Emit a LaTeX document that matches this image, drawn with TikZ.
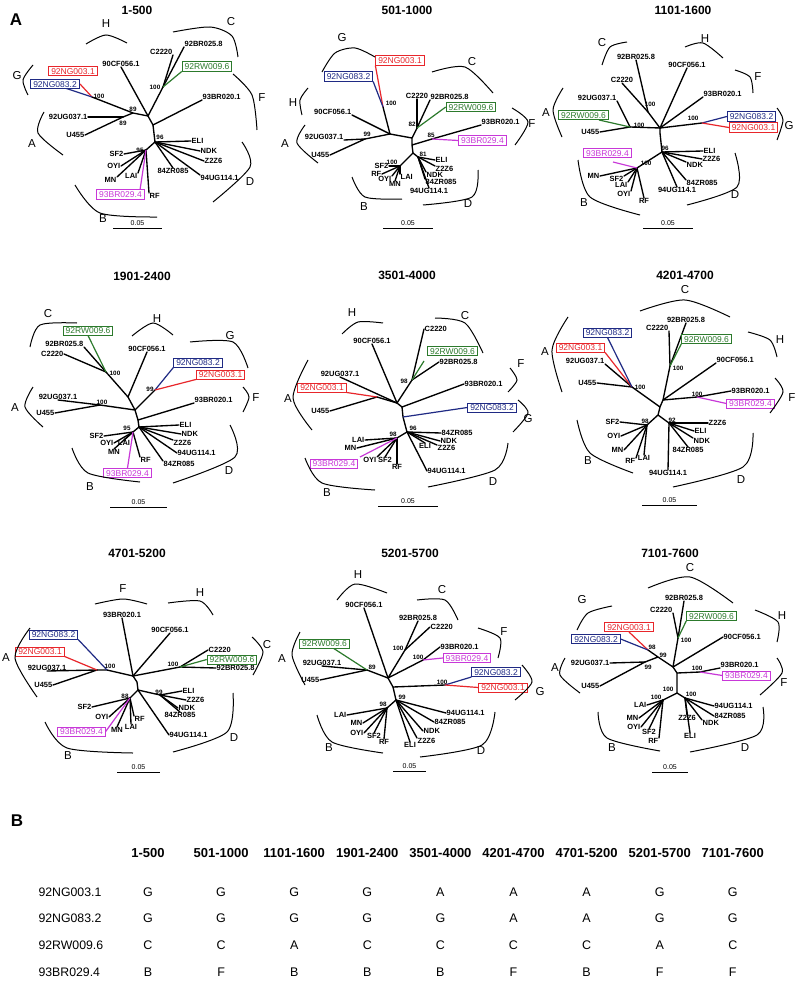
\documentclass[tikz,border=0pt]{standalone}
\usepackage{fontspec}
\setmainfont{Liberation Sans}
\definecolor{cred}{HTML}{E8262B}
\definecolor{cblue}{HTML}{1F2A84}
\definecolor{cgreen}{HTML}{2C7A2C}
\definecolor{cmag}{HTML}{C838D8}
\tikzset{
 br/.style={line width=1.35pt,line cap=round},
 lab/.style={font=\fontsize{7.5}{8}\selectfont\bfseries,inner sep=0.5pt},
 bs/.style={font=\fontsize{6.3}{7}\selectfont\bfseries,inner sep=0.3pt},
 clade/.style={font=\fontsize{11.5}{12}\selectfont,inner sep=0pt},
 carc/.style={line width=1pt},
 bx/.style={draw=#1,text=#1,fill=white,line width=0.8pt,font=\fontsize{8.5}{9}\selectfont,inner xsep=2.5pt,inner ysep=1.5pt,text height=6.2pt,text depth=0pt},
 cl/.style={draw=#1,line width=1.2pt},
 ttl/.style={font=\fontsize{12}{13}\selectfont\bfseries},
 sbarst/.style={line width=1pt},
 scl/.style={font=\fontsize{7}{8}\selectfont,inner sep=0.5pt},
 hdr/.style={font=\fontsize{13}{14}\selectfont\bfseries},
 cell/.style={font=\fontsize{12.5}{13}\selectfont},
 rowl/.style={font=\fontsize{12.3}{13}\selectfont,anchor=west},
 panel/.style={font=\fontsize{17}{18}\selectfont\bfseries},
}
\newcommand\tleaf[5]{\node[lab,anchor=#4] (#2) at (#3) {#5};\draw[br] (#1) -- (#2.#4);}
\newcommand\bsn[3]{\node[bs] (#1) at (#2) {#3};}
\newcommand\cld[4]{\node[clade] (#1) at (#2) {#3};\draw[carc] plot[smooth] coordinates {#4};}
\newcommand\sbar[4]{\coordinate (#1l) at (#2,#4);\coordinate (#1r) at (#3,#4);\draw[sbarst] (#1l)--(#1r);\node[scl] (#1t) at ({(#2+#3)/2},{#4-5}) {0.05};}
\begin{document}
\begin{tikzpicture}[x=1pt,y=-1pt]
\fill[white] (0,0) rectangle (799,987);
\useasboundingbox (0,0) rectangle (799,987);
\node[panel] (pA) at (16,20) {A};
\node[panel] (pB) at (17,821) {B};

% ================= TREE 1: 1-500
\node[ttl] (t1T) at (137,10) {1-500};
\coordinate (t1a) at (148,116); \coordinate (t1b) at (153,125); \coordinate (t1c) at (155,142);
\coordinate (t1h) at (133,113); \coordinate (t1n) at (123,117); \coordinate (t1g) at (92,97);
\coordinate (t1k) at (163,87); \coordinate (t1m) at (146,150);
\draw[br] (t1a)--(t1b)--(t1c) (t1a)--(t1h)--(t1g) (t1h)--(t1n) (t1a)--(t1k) (t1c)--(t1m);
\tleaf{t1a}{t1cf}{121,67}{south}{90CF056.1}
\tleaf{t1n}{t1ug}{88,117}{east}{92UG037.1}
\tleaf{t1n}{t1u}{85,135}{east}{U455}
\tleaf{t1k}{t1cc}{173,55}{south east}{C2220}
\tleaf{t1k}{t1bra}{184,47}{south west}{92BR025.8}
\tleaf{t1b}{t1brb}{202,100}{south west}{93BR020.1}
\tleaf{t1c}{t1eli}{191,141}{west}{ELI}
\tleaf{t1c}{t1ndk}{200,151}{west}{NDK}
\tleaf{t1c}{t1z}{204,161}{west}{Z2Z6}
\tleaf{t1c}{t1ugb}{200,175}{north west}{94UG114.1}
\tleaf{t1c}{t1zr}{173,168}{north}{84ZR085}
\tleaf{t1m}{t1sf}{124,154}{east}{SF2}
\tleaf{t1m}{t1oyi}{121,166}{east}{OYI}
\tleaf{t1m}{t1mn}{117,177}{north east}{MN}
\tleaf{t1m}{t1lai}{138,173}{north east}{LAI}
\tleaf{t1m}{t1rf}{149,193}{north west}{RF}
\coordinate (t1re) at (80,84); \coordinate (t1be) at (65,88); \coordinate (t1me) at (140,190);
\draw[cl=cred] (t1g)--(t1re);
\draw[cl=cblue] (t1g)--(t1be);
\draw[cl=cmag] (t1m)--(t1me);
\node[bx=cred] (t1red) at (73,71) {92NG003.1};
\node[bx=cblue] (t1blu) at (55,84) {92NG083.2};
\node[bx=cgreen] (t1grn) at (207,66.5) {92RW009.6};
\node[bx=cmag] (t1mag) at (120.5,194.5) {93BR029.4};
\draw[cl=cgreen] (t1k)--(t1grn.south west);
\bsn{t1s1}{99,96}{100} \bsn{t1s2}{133,109}{89} \bsn{t1s3}{123,123}{89}
\bsn{t1s4}{155,87}{100} \bsn{t1s5}{160,137}{96} \bsn{t1s6}{140,150}{95}
\cld{t1H}{106,24}{H}{(86,44) (106,35) (127,43)}
\cld{t1C}{231,22}{C}{(173,32) (210,27) (232,36) (238,57)}
\cld{t1G}{17,76}{G}{(33,65) (23,80) (28,95)}
\cld{t1F}{262,98}{F}{(233,74) (252,95) (257,130)}
\cld{t1A}{32,144}{A}{(44,112) (38,133) (63,155)}
\cld{t1D}{250,182}{D}{(242,142) (250,167) (213,202)}
\cld{t1B}{103,219}{B}{(75,185) (100,213) (157,217)}
\sbar{t1sb}{113}{162}{228}

% ================= TREE 2: 501-1000
\node[ttl] (t2T) at (407,10) {501-1000};
\coordinate (t2a) at (390,134); \coordinate (t2b) at (412,138); \coordinate (t2c) at (412,145);
\coordinate (t2d) at (413,153); \coordinate (t2g) at (383,107); \coordinate (t2n) at (365,139);
\coordinate (t2k) at (417,128); \coordinate (t2f) at (432,139); \coordinate (t2e) at (418,157);
\coordinate (t2m) at (400,166);
\draw[br] (t2a)--(t2b)--(t2c)--(t2d) (t2a)--(t2g) (t2a)--(t2n) (t2b)--(t2k) (t2c)--(t2f) (t2d)--(t2e) (t2d)--(t2m);
\tleaf{t2a}{t2cf}{352,115}{south east}{90CF056.1}
\tleaf{t2n}{t2ug}{344,140}{south east}{92UG037.1}
\tleaf{t2n}{t2u}{330,155}{east}{U455}
\tleaf{t2k}{t2cc}{417,99}{south}{C2220}
\tleaf{t2k}{t2bra}{430,100}{south west}{92BR025.8}
\tleaf{t2f}{t2brb}{481,125}{south west}{93BR020.1}
\tleaf{t2e}{t2eli}{435,160}{west}{ELI}
\tleaf{t2e}{t2z}{435,166}{north west}{Z2Z6}
\tleaf{t2e}{t2ndk}{426,172}{north west}{NDK}
\tleaf{t2e}{t2zr}{425,179}{north west}{84ZR085}
\tleaf{t2e}{t2ugb}{429,188}{north}{94UG114.1}
\tleaf{t2m}{t2sf}{389,166}{east}{SF2}
\tleaf{t2m}{t2rf}{382,174}{east}{RF}
\tleaf{t2m}{t2oyi}{392,176}{north east}{OYI}
\tleaf{t2m}{t2mn}{395,181}{north}{MN}
\tleaf{t2m}{t2lai}{400,174}{north west}{LAI}
\node[bx=cred] (t2red) at (400,60.5) {92NG003.1};
\node[bx=cblue] (t2blu) at (348.5,76.5) {92NG083.2};
\node[bx=cgreen] (t2grn) at (471,107) {92RW009.6};
\node[bx=cmag] (t2mag) at (482.5,140.5) {93BR029.4};
\draw[cl=cred] (t2g)--(t2red.south west);
\draw[cl=cblue] (t2g)--(t2blu.south east);
\draw[cl=cgreen] (t2k)--(t2grn.west);
\draw[cl=cmag] (t2f)--(t2mag.west);
\bsn{t2s1}{391,103}{100} \bsn{t2s2}{367,134}{99} \bsn{t2s3}{412,124}{82}
\bsn{t2s4}{431,135}{85} \bsn{t2s5}{423,154}{81} \bsn{t2s6}{392,162}{100}
\cld{t2G}{342,38}{G}{(322,72) (335,53) (355,48) (375,57)}
\cld{t2C}{472,62}{C}{(432,72) (465,67) (493,93)}
\cld{t2H}{293,103}{H}{(308,88) (300,100) (302,115)}
\cld{t2F}{532,124}{F}{(512,108) (528,122) (515,145)}
\cld{t2A}{285,144}{A}{(305,125) (297,143) (318,163)}
\cld{t2B}{364,207}{B}{(352,177) (365,197) (402,199)}
\cld{t2D}{468,204}{D}{(478,170) (472,197) (423,205)}
\sbar{t2sb}{383}{433}{228}

% ================= TREE 3: 1101-1600
\node[ttl] (t3T) at (683,10) {1101-1600};
\coordinate (t3a) at (660,128); \coordinate (t3b) at (660,133); \coordinate (t3d) at (662,152);
\coordinate (t3n) at (630,127); \coordinate (t3k) at (648,112); \coordinate (t3g) at (702,123);
\coordinate (t3m) at (637,168);
\draw[br] (t3a)--(t3b)--(t3d) (t3a)--(t3n) (t3a)--(t3k) (t3a)--(t3g) (t3d)--(t3m);
\tleaf{t3n}{t3ug}{617,101}{south east}{92UG037.1}
\tleaf{t3n}{t3u}{600,132}{east}{U455}
\tleaf{t3k}{t3cc}{622,83}{south}{C2220}
\tleaf{t3k}{t3bra}{636,60}{south}{92BR025.8}
\tleaf{t3a}{t3cf}{687,68}{south}{90CF056.1}
\tleaf{t3a}{t3brb}{703,97}{south west}{93BR020.1}
\tleaf{t3d}{t3eli}{703,151}{west}{ELI}
\tleaf{t3d}{t3z}{702,159}{west}{Z2Z6}
\tleaf{t3d}{t3ndk}{686,162}{north west}{NDK}
\tleaf{t3d}{t3zr}{686,180}{north west}{84ZR085}
\tleaf{t3d}{t3ugb}{677,187}{north}{94UG114.1}
\tleaf{t3m}{t3mn}{600,176}{east}{MN}
\tleaf{t3m}{t3sf}{624,176}{north east}{SF2}
\tleaf{t3m}{t3lai}{628,182}{north east}{LAI}
\tleaf{t3m}{t3oyi}{631,191}{north east}{OYI}
\tleaf{t3m}{t3rf}{644,198}{north}{RF}
\coordinate (t3ge) at (599,120); \coordinate (t3me) at (613,162);
\draw[cl=cgreen] (t3n)--(t3ge);
\draw[cl=cmag] (t3m)--(t3me);
\node[bx=cgreen] (t3grn) at (583.5,115) {92RW009.6};
\node[bx=cmag] (t3mag) at (607.5,153) {93BR029.4};
\node[bx=cblue] (t3blu) at (751.5,116.5) {92NG083.2};
\node[bx=cred] (t3red) at (753.5,127.5) {92NG003.1};
\draw[cl=cblue] (t3g)--(t3blu.west);
\draw[cl=cred] (t3g)--(t3red.west);
\bsn{t3s1}{665,148}{96} \bsn{t3s2}{639,125}{100} \bsn{t3s3}{650,104}{100}
\bsn{t3s4}{693,118}{100} \bsn{t3s5}{646,163}{100}
\cld{t3C}{602,43}{C}{(602,65) (610,47) (627,42)}
\cld{t3H}{705,39}{H}{(685,47) (703,43) (723,58)}
\cld{t3F}{758,77}{F}{(735,70) (750,77) (753,93)}
\cld{t3A}{546,113}{A}{(563,88) (553,110) (562,137)}
\cld{t3G}{789,126}{G}{(777,108) (783,120) (777,140)}
\cld{t3B}{584,203}{B}{(578,160) (590,197) (640,215)}
\cld{t3D}{735,195}{D}{(735,153) (737,187) (687,205)}
\sbar{t3sb}{643}{693}{228}

% ================= TREE 4: 1901-2400
\node[ttl] (t4T) at (142,276) {1901-2400};
\coordinate (t4a) at (128,397); \coordinate (t4b) at (135,410); \coordinate (t4c) at (138,420);
\coordinate (t4d) at (139,427); \coordinate (t4k) at (106,372); \coordinate (t4g) at (155,390);
\coordinate (t4n) at (100,405); \coordinate (t4m) at (133,432);
\draw[br] (t4a)--(t4b)--(t4c)--(t4d) (t4a)--(t4k) (t4b)--(t4g) (t4b)--(t4n) (t4d)--(t4m);
\tleaf{t4k}{t4bra}{84,347}{south east}{92BR025.8}
\tleaf{t4k}{t4cc}{64,354}{east}{C2220}
\tleaf{t4a}{t4cf}{147,352}{south}{90CF056.1}
\tleaf{t4n}{t4ug}{58,400}{south}{92UG037.1}
\tleaf{t4n}{t4u}{55,413}{east}{U455}
\tleaf{t4c}{t4brb}{194,403}{south west}{93BR020.1}
\tleaf{t4d}{t4eli}{179,425}{west}{ELI}
\tleaf{t4d}{t4ndk}{181,434}{west}{NDK}
\tleaf{t4d}{t4z}{173,440}{north west}{Z2Z6}
\tleaf{t4d}{t4ugb}{177,453}{west}{94UG114.1}
\tleaf{t4d}{t4zr}{163,461}{north west}{84ZR085}
\tleaf{t4m}{t4sf}{104,436}{east}{SF2}
\tleaf{t4m}{t4oyi}{114,443}{east}{OYI}
\tleaf{t4m}{t4lai}{124,440}{north}{LAI}
\tleaf{t4m}{t4mn}{114,449}{north}{MN}
\tleaf{t4m}{t4rf}{140,457}{north west}{RF}
\node[bx=cgreen] (t4grn) at (88,330.5) {92RW009.6};
\node[bx=cblue] (t4blu) at (198,362.5) {92NG083.2};
\node[bx=cred] (t4red) at (220.5,374.5) {92NG003.1};
\node[bx=cmag] (t4mag) at (127.5,473) {93BR029.4};
\draw[cl=cgreen] (t4k)--(t4grn.south);
\draw[cl=cblue] (t4g)--(t4blu.south west);
\draw[cl=cred] (t4g)--(t4red.south west);
\draw[cl=cmag] (t4m)--(t4mag.north);
\bsn{t4s1}{115,373}{100} \bsn{t4s2}{150,389}{99} \bsn{t4s3}{102,402}{100} \bsn{t4s4}{127,428}{95}
\cld{t4C}{48,314}{C}{(30,347) (40,325) (77,323)}
\cld{t4H}{157,319}{H}{(132,336) (153,323) (173,335)}
\cld{t4G}{230,336}{G}{(190,342) (233,342) (248,368)}
\cld{t4F}{256,398}{F}{(243,387) (249,397) (243,412)}
\cld{t4A}{15,408}{A}{(33,387) (25,407) (43,427)}
\cld{t4B}{90,487}{B}{(72,448) (88,473) (140,482)}
\cld{t4D}{229,471}{D}{(230,425) (235,457) (173,483)}
\sbar{t4sb}{110}{167}{507}

% ================= TREE 5: 3501-4000
\node[ttl] (t5T) at (407,275) {3501-4000};
\coordinate (t5a) at (397,403); \coordinate (t5b) at (402,407); \coordinate (t5c) at (403,417);
\coordinate (t5d) at (407,432); \coordinate (t5n) at (377,397); \coordinate (t5k) at (412,380);
\coordinate (t5m) at (397,438);
\draw[br] (t5a)--(t5b)--(t5c)--(t5d) (t5a)--(t5n) (t5a)--(t5k) (t5d)--(t5m);
\tleaf{t5a}{t5cf}{372,344}{south}{90CF056.1}
\tleaf{t5a}{t5ug}{340,377}{south}{92UG037.1}
\tleaf{t5n}{t5u}{330,411}{east}{U455}
\tleaf{t5k}{t5cc}{424,329}{west}{C2220}
\tleaf{t5k}{t5bra}{439,362}{west}{92BR025.8}
\tleaf{t5b}{t5brb}{464,384}{west}{93BR020.1}
\tleaf{t5d}{t5zr}{441,433}{west}{84ZR085}
\tleaf{t5d}{t5ndk}{440,441}{west}{NDK}
\tleaf{t5d}{t5eli}{425,443}{north}{ELI}
\tleaf{t5d}{t5z}{437,445}{north west}{Z2Z6}
\tleaf{t5d}{t5ugb}{427,471}{west}{94UG114.1}
\tleaf{t5m}{t5lai}{365,440}{east}{LAI}
\tleaf{t5m}{t5mn}{357,448}{east}{MN}
\tleaf{t5m}{t5oyi}{377,457}{north east}{OYI}
\tleaf{t5m}{t5sf}{385,457}{north}{SF2}
\tleaf{t5m}{t5rf}{397,464}{north}{RF}
\coordinate (t5ge) at (424,361); \coordinate (t5me) at (360,457);
\draw[cl=cgreen] (t5k)--(t5ge);
\draw[cl=cmag] (t5m)--(t5me);
\node[bx=cred] (t5red) at (322,387.5) {92NG003.1};
\node[bx=cgreen] (t5grn) at (452.5,351) {92RW009.6};
\node[bx=cblue] (t5blu) at (492,407.5) {92NG083.2};
\node[bx=cmag] (t5mag) at (334,463.5) {93BR029.4};
\draw[cl=cred] (t5n)--(t5red.south east);
\draw[cl=cblue] (t5c)--(t5blu.west);
\bsn{t5s1}{404,381}{98} \bsn{t5s2}{413,428}{96} \bsn{t5s3}{393,434}{98}
\cld{t5H}{352,313}{H}{(342,334) (358,322) (383,323)}
\cld{t5C}{465,316}{C}{(435,318) (465,323) (483,353)}
\cld{t5F}{521,364}{F}{(510,368) (517,380) (508,392)}
\cld{t5G}{528,419}{G}{(518,400) (528,413) (513,432)}
\cld{t5A}{288,399}{A}{(308,360) (293,398) (312,430)}
\cld{t5B}{327,493}{B}{(305,458) (322,483) (375,490)}
\cld{t5D}{493,482}{D}{(508,443) (495,470) (428,487)}
\sbar{t5sb}{378}{438}{506}

% ================= TREE 6: 4201-4700
\node[ttl] (t6T) at (685,275) {4201-4700};
\coordinate (t6a) at (663,400); \coordinate (t6b) at (660,407); \coordinate (t6c) at (658,415);
\coordinate (t6n) at (632,387); \coordinate (t6k) at (670,366); \coordinate (t6f) at (697,397);
\coordinate (t6m) at (647,425); \coordinate (t6e) at (669,423);
\draw[br] (t6a)--(t6b)--(t6c) (t6a)--(t6k) (t6a)--(t6f) (t6b)--(t6n) (t6c)--(t6m) (t6c)--(t6e);
\tleaf{t6k}{t6bra}{686,323}{south}{92BR025.8}
\tleaf{t6k}{t6cc}{669,331}{south east}{C2220}
\tleaf{t6a}{t6cf}{716,363}{south west}{90CF056.1}
\tleaf{t6n}{t6ug}{605,364}{south east}{92UG037.1}
\tleaf{t6n}{t6u}{597,383}{east}{U455}
\tleaf{t6f}{t6brb}{731,391}{west}{93BR020.1}
\tleaf{t6m}{t6sf}{620,422}{east}{SF2}
\tleaf{t6m}{t6oyi}{621,436}{east}{OYI}
\tleaf{t6m}{t6mn}{624,450}{east}{MN}
\tleaf{t6m}{t6rf}{636,458}{north east}{RF}
\tleaf{t6m}{t6lai}{644,455}{north}{LAI}
\tleaf{t6e}{t6z}{708,423}{west}{Z2Z6}
\tleaf{t6e}{t6eli}{694,431}{west}{ELI}
\tleaf{t6e}{t6ndk}{693,438}{north west}{NDK}
\tleaf{t6e}{t6zr}{688,447}{north}{84ZR085}
\tleaf{t6e}{t6ugb}{668,470}{north}{94UG114.1}
\node[bx=cred] (t6red) at (580.5,347.5) {92NG003.1};
\node[bx=cblue] (t6blu) at (607.5,332.5) {92NG083.2};
\node[bx=cgreen] (t6grn) at (706.5,339) {92RW009.6};
\node[bx=cmag] (t6mag) at (750.5,403.5) {93BR029.4};
\draw[cl=cred] (t6n)--(t6red.south east);
\draw[cl=cblue] (t6n)--(t6blu.south);
\draw[cl=cgreen] (t6k)--(t6grn.south west);
\draw[cl=cmag] (t6f)--(t6mag.west);
\bsn{t6s1}{640,387}{100} \bsn{t6s2}{678,368}{100} \bsn{t6s3}{697,394}{100}
\bsn{t6s4}{645,421}{98} \bsn{t6s5}{672,420}{92}
\cld{t6C}{685,290}{C}{(640,311) (685,300) (730,317)}
\cld{t6H}{780,340}{H}{(748,332) (770,340) (777,357)}
\cld{t6A}{545,352}{A}{(568,317) (552,350) (562,392)}
\cld{t6F}{792,398}{F}{(775,378) (783,392) (770,413)}
\cld{t6B}{588,461}{B}{(577,420) (590,453) (633,473)}
\cld{t6D}{741,480}{D}{(753,433) (743,467) (673,487)}
\sbar{t6sb}{642}{697}{505}

% ================= TREE 7: 4701-5200
\node[ttl] (t7T) at (137,553) {4701-5200};
\coordinate (t7a) at (133,676); \coordinate (t7b) at (137,682); \coordinate (t7c) at (138,690);
\coordinate (t7n) at (97,670); \coordinate (t7q) at (107,670); \coordinate (t7k) at (180,667);
\coordinate (t7e) at (160,695); \coordinate (t7m) at (130,698);
\draw[br] (t7a)--(t7b)--(t7c) (t7a)--(t7q)--(t7n) (t7a)--(t7k) (t7c)--(t7e) (t7c)--(t7m);
\tleaf{t7a}{t7brb}{122,618}{south}{93BR020.1}
\tleaf{t7a}{t7cf}{170,633}{south}{90CF056.1}
\tleaf{t7n}{t7ug}{47,671}{south}{92UG037.1}
\tleaf{t7n}{t7u}{53,685}{east}{U455}
\tleaf{t7k}{t7cc}{208,650}{west}{C2220}
\tleaf{t7k}{t7bra}{216,668}{west}{92BR025.8}
\tleaf{t7e}{t7eli}{182,691}{west}{ELI}
\tleaf{t7e}{t7z}{186,700}{west}{Z2Z6}
\tleaf{t7e}{t7ndk}{178,708}{west}{NDK}
\tleaf{t7e}{t7zr}{180,712}{north}{84ZR085}
\tleaf{t7c}{t7ugb}{169,735}{west}{94UG114.1}
\tleaf{t7m}{t7sf}{92,707}{east}{SF2}
\tleaf{t7m}{t7oyi}{109,717}{east}{OYI}
\tleaf{t7m}{t7rf}{134,716}{north west}{RF}
\tleaf{t7m}{t7mn}{117,727}{north}{MN}
\tleaf{t7m}{t7lai}{131,724}{north}{LAI}
\node[bx=cred] (t7red) at (40,651.5) {92NG003.1};
\node[bx=cblue] (t7blu) at (53.5,634.5) {92NG083.2};
\node[bx=cgreen] (t7grn) at (232,659.5) {92RW009.6};
\node[bx=cmag] (t7mag) at (81.5,731.5) {93BR029.4};
\draw[cl=cred] (t7n)--(t7red.south east);
\draw[cl=cblue] (t7q)--(t7blu.south east);
\draw[cl=cgreen] (t7k)--(t7grn.west);
\draw[cl=cmag] (t7m)--(t7mag.east);
\bsn{t7s1}{110,666}{100} \bsn{t7s2}{173,664}{100} \bsn{t7s3}{159,692}{99} \bsn{t7s4}{125,696}{88}
\cld{t7F}{123,589}{F}{(95,604) (123,599) (147,604)}
\cld{t7H}{200,593}{H}{(168,603) (200,601) (213,615)}
\cld{t7C}{267,645}{C}{(252,637) (263,652) (253,675)}
\cld{t7A}{6,658}{A}{(30,628) (15,658) (37,697)}
\cld{t7B}{68,756}{B}{(45,722) (67,748) (133,753)}
\cld{t7D}{234,738}{D}{(233,693) (227,732) (173,752)}
\sbar{t7sb}{117}{160}{772}

% ================= TREE 8: 5201-5700
\node[ttl] (t8T) at (410,553) {5201-5700};
\coordinate (t8a) at (388,678); \coordinate (t8b) at (393,687); \coordinate (t8d) at (396,700);
\coordinate (t8k) at (405,650); \coordinate (t8n) at (367,670); \coordinate (t8f) at (423,660);
\coordinate (t8g) at (445,685); \coordinate (t8m) at (387,708);
\draw[br] (t8a)--(t8b)--(t8d) (t8a)--(t8k) (t8a)--(t8n) (t8a)--(t8f) (t8b)--(t8g) (t8d)--(t8m);
\tleaf{t8a}{t8cf}{364,608}{south}{90CF056.1}
\tleaf{t8k}{t8bra}{418,621}{south}{92BR025.8}
\tleaf{t8k}{t8cc}{430,627}{west}{C2220}
\tleaf{t8n}{t8ug}{322,666}{south}{92UG037.1}
\tleaf{t8n}{t8u}{320,680}{east}{U455}
\tleaf{t8f}{t8brb}{440,647}{west}{93BR020.1}
\tleaf{t8d}{t8ugb}{446,713}{west}{94UG114.1}
\tleaf{t8d}{t8zr}{434,722}{west}{84ZR085}
\tleaf{t8d}{t8ndk}{423,731}{west}{NDK}
\tleaf{t8d}{t8z}{417,738}{north west}{Z2Z6}
\tleaf{t8d}{t8eli}{410,742}{north}{ELI}
\tleaf{t8m}{t8lai}{347,715}{east}{LAI}
\tleaf{t8m}{t8mn}{363,723}{east}{MN}
\tleaf{t8m}{t8oyi}{364,733}{east}{OYI}
\tleaf{t8m}{t8sf}{374,733}{north}{SF2}
\tleaf{t8m}{t8rf}{384,739}{north}{RF}
\coordinate (t8ge) at (333,648);
\draw[cl=cgreen] (t8n)--(t8ge);
\node[bx=cgreen] (t8grn) at (324.5,643.5) {92RW009.6};
\node[bx=cmag] (t8mag) at (467,658) {93BR029.4};
\node[bx=cblue] (t8blu) at (496,672) {92NG083.2};
\node[bx=cred] (t8red) at (503,687.5) {92NG003.1};
\draw[cl=cmag] (t8f)--(t8mag.west);
\draw[cl=cblue] (t8g)--(t8blu.south west);
\draw[cl=cred] (t8g)--(t8red.west);
\bsn{t8s1}{398,648}{100} \bsn{t8s2}{372,667}{89} \bsn{t8s3}{418,657}{100}
\bsn{t8s4}{442,682}{100} \bsn{t8s5}{402,697}{99} \bsn{t8s6}{383,704}{98}
\cld{t8H}{358,575}{H}{(337,600) (355,584) (387,593)}
\cld{t8C}{442,590}{C}{(417,600) (445,600) (458,620)}
\cld{t8F}{504,632}{F}{(478,628) (500,638) (498,658)}
\cld{t8A}{282,659}{A}{(300,632) (292,655) (305,685)}
\cld{t8G}{540,692}{G}{(522,665) (532,682) (515,700)}
\cld{t8B}{329,748}{B}{(317,715) (332,742) (383,753)}
\cld{t8D}{481,751}{D}{(495,712) (482,745) (420,757)}
\sbar{t8sb}{393}{426}{771}

% ================= TREE 9: 7101-7600
\node[ttl] (t9T) at (670,553) {7101-7600};
\coordinate (t9a) at (673,667); \coordinate (t9b) at (677,673); \coordinate (t9c) at (677,693);
\coordinate (t9k) at (678,638); \coordinate (t9g) at (648,650); \coordinate (t9p) at (658,657);
\coordinate (t9n) at (645,662); \coordinate (t9f) at (700,672); \coordinate (t9m) at (663,700);
\coordinate (t9e) at (685,698);
\draw[br] (t9a)--(t9b)--(t9c) (t9a)--(t9k) (t9a)--(t9p)--(t9g) (t9p)--(t9n) (t9b)--(t9f) (t9c)--(t9m) (t9c)--(t9e);
\tleaf{t9k}{t9bra}{684,601}{south}{92BR025.8}
\tleaf{t9k}{t9cc}{673,613}{south east}{C2220}
\tleaf{t9n}{t9ug}{610,663}{east}{92UG037.1}
\tleaf{t9n}{t9u}{600,686}{east}{U455}
\tleaf{t9a}{t9cf}{723,637}{west}{90CF056.1}
\tleaf{t9f}{t9brb}{720,668}{south west}{93BR020.1}
\tleaf{t9m}{t9lai}{647,705}{east}{LAI}
\tleaf{t9m}{t9mn}{639,718}{east}{MN}
\tleaf{t9m}{t9oyi}{641,727}{east}{OYI}
\tleaf{t9m}{t9sf}{649,729}{north}{SF2}
\tleaf{t9m}{t9rf}{659,738}{north east}{RF}
\tleaf{t9e}{t9ugb}{714,706}{west}{94UG114.1}
\tleaf{t9e}{t9zr}{714,716}{west}{84ZR085}
\tleaf{t9e}{t9ndk}{702,720}{north west}{NDK}
\tleaf{t9e}{t9z}{687,715}{north}{Z2Z6}
\tleaf{t9e}{t9eli}{690,733}{north}{ELI}
\node[bx=cgreen] (t9grn) at (711.5,616) {92RW009.6};
\node[bx=cred] (t9red) at (629,627) {92NG003.1};
\node[bx=cblue] (t9blu) at (596,639) {92NG083.2};
\node[bx=cmag] (t9mag) at (746.5,675.5) {93BR029.4};
\draw[cl=cgreen] (t9k)--(t9grn.south west);
\draw[cl=cred] (t9g)--(t9red.south);
\draw[cl=cblue] (t9g)--(t9blu.east);
\draw[cl=cmag] (t9f)--(t9mag.west);
\bsn{t9s1}{686,640}{100} \bsn{t9s2}{652,647}{98} \bsn{t9s3}{663,655}{99} \bsn{t9s4}{648,667}{99}
\bsn{t9s5}{668,689}{100} \bsn{t9s6}{697,668}{100} \bsn{t9s7}{656,697}{100} \bsn{t9s8}{691,694}{100}
\cld{t9C}{690,568}{C}{(648,588) (690,577) (733,603)}
\cld{t9G}{582,600}{G}{(577,630) (588,613) (612,606)}
\cld{t9H}{782,616}{H}{(755,610) (778,622) (777,642)}
\cld{t9A}{555,668}{A}{(565,658) (560,675) (580,693)}
\cld{t9F}{784,683}{F}{(777,658) (782,673) (760,695)}
\cld{t9B}{612,748}{B}{(598,712) (607,738) (660,751)}
\cld{t9D}{745,748}{D}{(763,707) (757,735) (690,752)}
\sbar{t9sb}{652}{688}{772}

% ================= TABLE B
\foreach \h [count=\j] in {1-500,501-1000,1101-1600,1901-2400,3501-4000,4201-4700,4701-5200,5201-5700,7101-7600}
  \node[hdr] (hd\j) at ({148+73.1*(\j-1)},853) {\h};
\node[rowl] (rl1) at (35,892) {92NG003.1};
\node[rowl] (rl2) at (35,918) {92NG083.2};
\node[rowl] (rl3) at (35,945) {92RW009.6};
\node[rowl] (rl4) at (35,972) {93BR029.4};
\foreach \v [count=\j] in {G,G,G,G,A,A,A,G,G}
  \node[cell] (ra\j) at ({148+73.1*(\j-1)},892) {\v};
\foreach \v [count=\j] in {G,G,G,G,G,A,A,G,G}
  \node[cell] (rb\j) at ({148+73.1*(\j-1)},918) {\v};
\foreach \v [count=\j] in {C,C,A,C,C,C,C,A,C}
  \node[cell] (rc\j) at ({148+73.1*(\j-1)},945) {\v};
\foreach \v [count=\j] in {B,F,B,B,B,F,B,F,F}
  \node[cell] (rd\j) at ({148+73.1*(\j-1)},972) {\v};
\end{tikzpicture}
\end{document}
